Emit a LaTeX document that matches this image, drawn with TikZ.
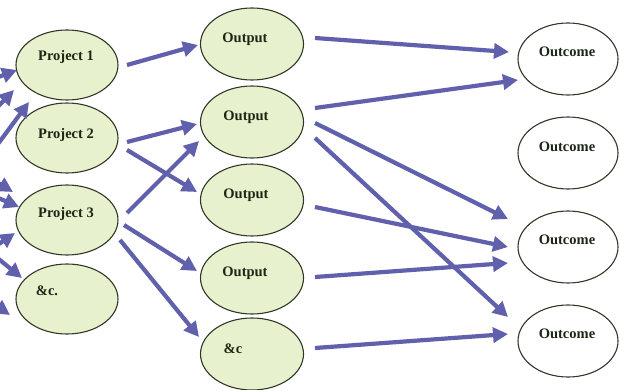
\documentclass[tikz,border=0pt]{standalone}
\usepackage{fontspec}
\setmainfont{Liberation Serif}
\usetikzlibrary{arrows.meta,shapes.geometric,calc}
\definecolor{arrowc}{RGB}{96,96,172}
\definecolor{fillc}{RGB}{231,241,205}
\definecolor{edgec}{RGB}{50,56,40}
\definecolor{txtc}{RGB}{28,38,20}
\begin{document}
\begin{tikzpicture}[x=1pt,y=-1pt,
  ell/.style={ellipse,draw=edgec,line width=1.1pt,fill=fillc,inner sep=0pt,minimum width=102pt,minimum height=70pt},
  outell/.style={ell,minimum width=103pt,minimum height=72pt},
  resell/.style={ell,fill=white,minimum width=100pt,minimum height=72pt},
  lab/.style={anchor=base,text=txtc,font=\fontsize{14.5}{16}\selectfont\bfseries,inner sep=0pt},
  arr/.style={draw=arrowc,line width=4.2pt,-{Triangle[length=15pt,width=15pt]}}]
\useasboundingbox (0,0) rectangle (620,390);
\fill[white] (0,0) rectangle (620,390);
\clip (0,0) rectangle (620,390);

% projects
\node[ell] (p1) at (67,65) {};
\node[ell] (p2) at (67,138) {};
\node[ell] (p3) at (67,220) {};
\node[ell] (pc) at (67,299) {};
\node[lab] (tp1) at (66,61) {Project 1};
\node[lab] (tp2) at (66,139) {Project 2};
\node[lab] (tp3) at (66,217) {Project 3};
\node[lab] (tpc) at (47,295) {\&c.};

% outputs
\node[outell] (o1) at (252,44) {};
\node[outell] (o2) at (252,122) {};
\node[outell] (o3) at (252,200) {};
\node[outell] (o4) at (252,278) {};
\node[outell] (o5) at (252,354) {};
\node[lab] (to1) at (245,43) {Output};
\node[lab] (to2) at (246,121) {Output};
\node[lab] (to3) at (246,198) {Output};
\node[lab] (to4) at (245,276) {Output};
\node[lab] (to5) at (233,353) {\&c};

% outcomes
\node[resell] (c1) at (568,59) {};
\node[resell] (c2) at (568,153) {};
\node[resell] (c3) at (568,247) {};
\node[resell] (c4) at (568,341) {};
\node[lab] (tc1) at (567,57) {Outcome};
\node[lab] (tc2) at (567,151) {Outcome};
\node[lab] (tc3) at (567,244) {Outcome};
\node[lab] (tc4) at (567,338) {Outcome};

% incoming arrows from the left edge
\coordinate (l1) at (-20,84);
\coordinate (l2) at (-15,120);
\coordinate (l2e) at (14,90);
\coordinate (l3) at (-25,175);
\coordinate (l4) at (-15,175);
\coordinate (l4e) at (13,192);
\coordinate (l5) at (-20,190);
\coordinate (l6) at (-10,250);
\coordinate (l7) at (-10,252);
\coordinate (l8) at (-12,300);
\draw[arr] (l1) -- ($(p1)+(-50,5)$);
\draw[arr] (l2) -- (l2e);
\draw[arr] (l3) -- ($(p1)+(-38,37)$);
\draw[arr] (l4) -- (l4e);
\draw[arr] (l5) -- ($(p3)+(-48,-13)$);
\draw[arr] (l6) -- ($(p3)+(-52,13)$);
\draw[arr] (l7) -- ($(pc)+(-45,-21)$);
\draw[arr] (l8) -- ($(pc)+(-57,16)$);

% projects -> outputs
\draw[arr] ($(p1)+(60,0)$) -- ($(o1)+(-54,1)$);
\draw[arr] ($(p2)+(60,4)$) -- ($(o2)+(-55,2)$);
\draw[arr] ($(p2)+(60,12)$) -- ($(o3)+(-55,-8)$);
\draw[arr] ($(p3)+(60,-7)$) -- ($(o2)+(-53,19)$);
\draw[arr] ($(p3)+(57,5)$) -- ($(o4)+(-55,-7)$);
\draw[arr] ($(p3)+(53,20)$) -- ($(o5)+(-53,-17)$);

% outputs -> outcomes
\draw[arr] ($(o1)+(63,-6)$) -- ($(c1)+(-59,-7)$);
\draw[arr] ($(o2)+(63,-14)$) -- ($(c1)+(-50,21)$);
\draw[arr] ($(o2)+(63,1)$) -- ($(c3)+(-60,-28)$);
\draw[arr] ($(o2)+(63,16)$) -- ($(c4)+(-60,-24)$);
\draw[arr] ($(o3)+(63,7)$) -- ($(c3)+(-60,0)$);
\draw[arr] ($(o4)+(63,-1)$) -- ($(c3)+(-60,16)$);
\draw[arr] ($(o5)+(63,-6)$) -- ($(c4)+(-60,-7)$);
\end{tikzpicture}
\end{document}
